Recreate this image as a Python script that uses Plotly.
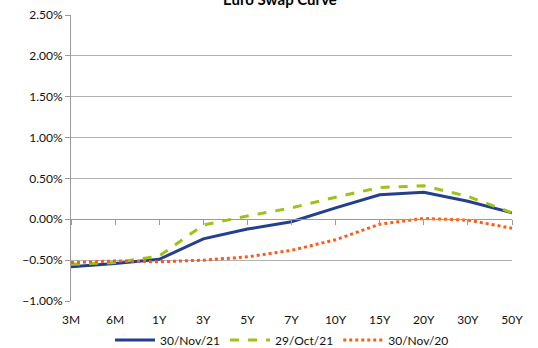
import plotly.graph_objects as go

categories = ["3M", "6M", "1Y", "3Y", "5Y", "7Y", "10Y", "15Y", "20Y", "30Y", "50Y"]
nov21 = [-0.58, -0.54, -0.49, -0.24, -0.12, -0.03, 0.14, 0.30, 0.33, 0.22, 0.08]
oct21 = [-0.55, -0.53, -0.45, -0.07, 0.04, 0.14, 0.27, 0.39, 0.41, 0.28, 0.08]
nov20 = [-0.53, -0.51, -0.52, -0.50, -0.46, -0.38, -0.25, -0.06, 0.01, -0.01, -0.11]

xs = list(range(len(categories)))
font = "Lato, 'Open Sans', sans-serif"

fig = go.Figure()
fig.add_trace(go.Scatter(x=xs, y=nov21, mode="lines", name="30/Nov/21",
                         line=dict(color="#243F8C", width=3)))
fig.add_trace(go.Scatter(x=xs, y=oct21, mode="lines", name="29/Oct/21",
                         line=dict(color="#9DC21A", width=3, dash="dash")))
fig.add_trace(go.Scatter(x=xs, y=nov20, mode="lines", name="30/Nov/20",
                         line=dict(color="#FF5A14", width=3, dash="dot")))
# helper axis at zero line for tick marks
fig.add_trace(go.Scatter(x=[0, 10], y=[None, None], xaxis="x2", showlegend=False, hoverinfo="skip"))

fig.update_layout(
    width=538, height=348,
    margin=dict(l=71, r=26, t=15, b=47, autoexpand=False),
    paper_bgcolor="white", plot_bgcolor="white",
    font=dict(family=font, size=12, color="#111"),
    title=dict(text="<b>Euro Swap Curve</b>", x=280/538, xanchor="center",
               y=1, yref="container", yanchor="middle",
               font=dict(size=15, color="#000"), automargin=False),
    xaxis=dict(range=[0, 10], tickvals=xs, ticktext=categories, showgrid=False,
               zeroline=False, showline=False, ticks="outside", ticklen=8,
               tickcolor="rgba(0,0,0,0)", automargin=False,
               tickfont=dict(size=12, color="#111")),
    xaxis2=dict(range=[0, 10], overlaying="x", anchor="free", position=1/3.5,
                tickvals=xs, showticklabels=False, ticks="outside", ticklen=5,
                tickcolor="#9a9a9a", showline=True, linecolor="#9a9a9a", linewidth=1,
                showgrid=False, zeroline=False, side="bottom", automargin=False),
    yaxis=dict(range=[-1, 2.5], dtick=0.5, tickformat=".2f", ticksuffix="%",
               showgrid=True, gridcolor="#b3b3b3", gridwidth=1, zeroline=False,
               showline=True, linecolor="#9a9a9a", ticks="outside", ticklen=5,
               tickcolor="#9a9a9a", automargin=False,
               tickfont=dict(size=12, color="#111")),
    legend=dict(orientation="h", x=(282 - 71) / 441, xanchor="center",
                y=-39/286, yanchor="middle",
                font=dict(size=12, color="#111"), itemwidth=40, tracegroupgap=0),
    showlegend=True,
)

fig.write_html("out.html", config={"displayModeBar": False},
               post_script="document.body.style.margin='0px';document.body.style.overflow='hidden';")
